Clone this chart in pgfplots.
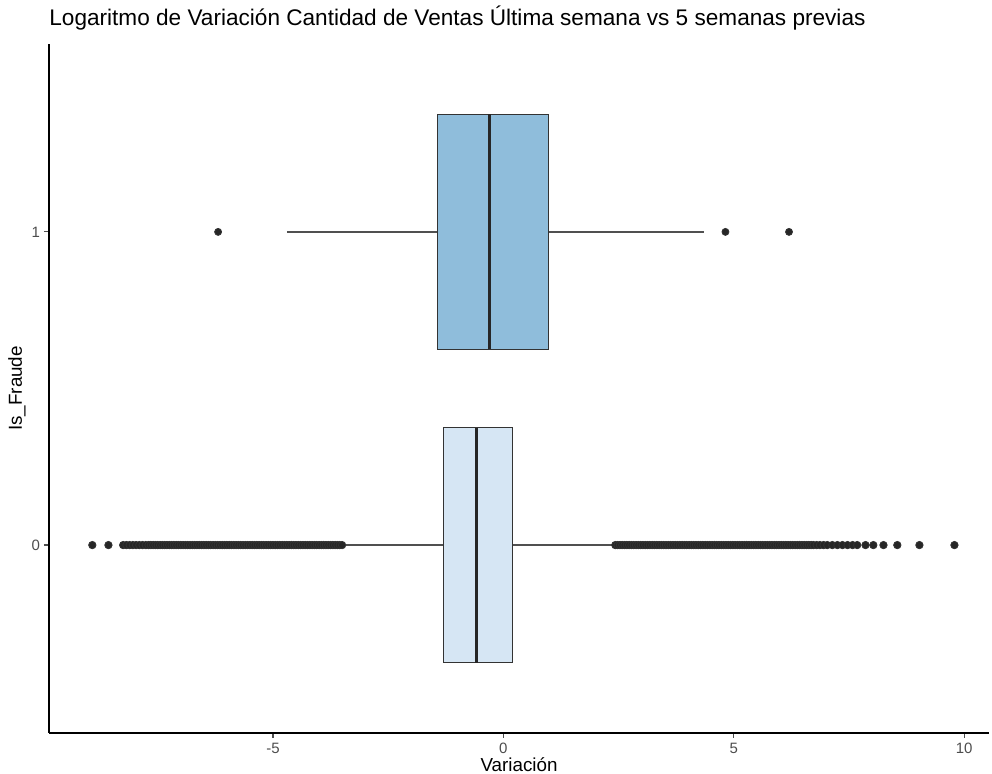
\documentclass[border=0pt]{standalone}
\usepackage{fontspec}
\setmainfont{Liberation Sans}
\usepackage{pgfplots}
\pgfplotsset{compat=1.18}
\usepgfplotslibrary{statistics}
\definecolor{boxA}{RGB}{214,230,244}
\definecolor{boxB}{RGB}{143,189,219}
\definecolor{dotc}{RGB}{38,38,38}
\definecolor{tickc}{RGB}{77,77,77}
\definecolor{linec}{RGB}{51,51,51}
\definecolor{whisc}{RGB}{80,80,80}
\begin{document}
\begin{tikzpicture}
\begin{axis}[
  scale only axis, width=470pt, height=344.5pt,
  xmin=-9.86, xmax=10.54, ymin=-0.6, ymax=1.6,
  axis x line*=bottom, axis y line*=left,
  axis line style={black, line width=0.8pt, -},
  xtick={-5,0,5,10}, ytick={0,1},
  tick align=outside, major tick length=2.5pt,
  tick style={tickc, line width=0.6pt},
  ticklabel style={font=\fontsize{7.5}{9}\selectfont, text=tickc},
  xticklabel style={yshift=1pt},
  yticklabel style={xshift=1.5pt},
  /pgf/number format/assume math mode=true,
  boxplot/draw direction=x,
  boxplot/every median/.style={line width=1.5pt, draw=black!85},
  boxplot/every box/.style={line width=0.7pt, draw=linec},
  boxplot/every whisker/.style={line width=0.7pt, draw=whisc},
]
\addplot[boxplot prepared={lower whisker=-3.47, lower quartile=-1.30, median=-0.58,
    upper quartile=0.195, upper whisker=2.38, draw position=0, box extend=0.75, whisker extend=0},
  draw=linec, fill=boxA, mark=*, mark size=1.85pt, mark options={fill=dotc, draw=none}]
  table[row sep=\\, y index=0] {x\\
  -8.92\\ -8.57\\ -8.25\\ -8.18\\ -8.11\\ -8.04\\ -7.97\\ -7.90\\ -7.83\\ -7.76\\ -7.70\\ -7.65\\
  -7.60\\ -7.55\\ -7.50\\ -7.45\\ -7.40\\ -7.35\\ -7.30\\ -7.25\\ -7.20\\ -7.15\\
  -7.10\\ -7.05\\ -7.00\\ -6.95\\ -6.90\\ -6.85\\ -6.80\\ -6.75\\ -6.70\\ -6.65\\
  -6.60\\ -6.55\\ -6.50\\ -6.45\\ -6.40\\ -6.35\\ -6.30\\ -6.25\\ -6.20\\ -6.15\\
  -6.10\\ -6.05\\ -6.00\\ -5.95\\ -5.90\\ -5.85\\ -5.80\\ -5.75\\ -5.70\\ -5.65\\
  -5.60\\ -5.55\\ -5.50\\ -5.45\\ -5.40\\ -5.35\\ -5.30\\ -5.25\\ -5.20\\ -5.15\\
  -5.10\\ -5.05\\ -5.00\\ -4.95\\ -4.90\\ -4.85\\ -4.80\\ -4.75\\ -4.70\\ -4.65\\
  -4.60\\ -4.55\\ -4.50\\ -4.45\\ -4.40\\ -4.35\\ -4.30\\ -4.25\\ -4.20\\ -4.15\\
  -4.10\\ -4.05\\ -4.00\\ -3.95\\ -3.90\\ -3.85\\ -3.80\\ -3.75\\ -3.70\\ -3.65\\
  -3.60\\ -3.55\\ -3.50\\
  2.43\\ 2.48\\ 2.53\\ 2.58\\ 2.63\\ 2.68\\ 2.73\\ 2.78\\ 2.83\\ 2.88\\
  2.93\\ 2.98\\ 3.03\\ 3.08\\ 3.13\\ 3.18\\ 3.23\\ 3.28\\ 3.33\\ 3.38\\
  3.43\\ 3.48\\ 3.53\\ 3.58\\ 3.63\\ 3.68\\ 3.73\\ 3.78\\ 3.83\\ 3.88\\
  3.93\\ 3.98\\ 4.03\\ 4.08\\ 4.13\\ 4.18\\ 4.23\\ 4.28\\ 4.33\\ 4.38\\
  4.43\\ 4.48\\ 4.53\\ 4.58\\ 4.63\\ 4.68\\ 4.73\\ 4.78\\ 4.83\\ 4.88\\
  4.93\\ 4.98\\ 5.03\\ 5.08\\ 5.13\\ 5.18\\ 5.23\\ 5.28\\ 5.33\\ 5.38\\
  5.43\\ 5.48\\ 5.53\\ 5.58\\ 5.63\\ 5.68\\ 5.73\\ 5.78\\ 5.83\\ 5.88\\
  5.93\\ 5.98\\ 6.03\\ 6.08\\ 6.13\\ 6.18\\ 6.23\\ 6.28\\ 6.33\\ 6.38\\
  6.43\\ 6.48\\ 6.53\\ 6.58\\ 6.63\\ 6.68\\ 6.73\\ 6.80\\ 6.87\\ 6.95\\
  7.03\\ 7.14\\ 7.25\\ 7.36\\ 7.47\\ 7.58\\ 7.68\\ 7.86\\ 8.03\\ 8.25\\
  8.55\\ 9.03\\ 9.79\\
  };
\addplot[boxplot prepared={lower whisker=-4.70, lower quartile=-1.43, median=-0.30,
    upper quartile=0.98, upper whisker=4.36, draw position=1, box extend=0.75, whisker extend=0},
  draw=linec, fill=boxB, mark=*, mark size=1.75pt, mark options={fill=dotc, draw=none}]
  table[row sep=\\, y index=0] {x\\ -6.19\\ 4.82\\ 6.20\\};
\end{axis}
\node[anchor=base west, font=\fontsize{11.3}{13}\selectfont, inner sep=0pt]
  at ([yshift=9pt]current axis.north west)
  {Logaritmo de Variación Cantidad de Ventas Última semana vs 5 semanas previas};
\node[anchor=base, font=\fontsize{9.4}{11}\selectfont, inner sep=0pt]
  at ([yshift=-19.3pt]current axis.south) {Variación};
\node[rotate=90, anchor=center, font=\fontsize{9.4}{11}\selectfont, inner sep=0pt]
  at ([xshift=-16pt]current axis.west) {Is\_Fraude};
\pgfresetboundingbox
\path ([shift={(-24.5pt,-20.5pt)}]current axis.south west) rectangle ([shift={(471.5pt,366.5pt)}]current axis.south west);
\end{tikzpicture}
\end{document}
